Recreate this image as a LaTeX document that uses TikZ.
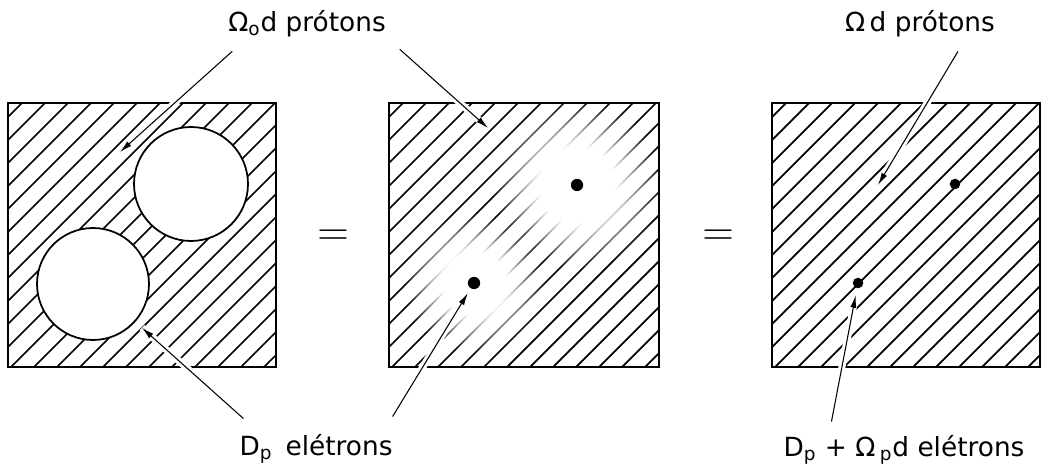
\documentclass[tikz,border=0pt]{standalone}
\usepackage{fontspec}
\setmainfont{DejaVu Sans}
\usetikzlibrary{arrows.meta,fadings}
\pgfdeclareradialshading{smearshade}{\pgfpointorigin}{color(0bp)=(pgftransparent!0); color(11bp)=(pgftransparent!0); color(25bp)=(pgftransparent!100); color(50bp)=(pgftransparent!100)}
\pgfdeclarefading{smear}{\pgfuseshading{smearshade}}

\begin{document}
\begin{tikzpicture}[x=0.02cm,y=-0.02cm,>=Latex,
  hatch/.style={line width=1pt},
  box/.style={line width=1.6pt},
  hole/.style={circle,draw,fill=white,line width=1pt,inner sep=0pt},
  dot/.style={circle,fill,inner sep=0pt,minimum size=7pt},
  lbl/.style={font=\fontsize{15}{18}\selectfont,inner sep=1pt},
  eqs/.style={font=\fontsize{26}{26}\selectfont,inner sep=0pt},
  ptr/.style={-{Latex[length=7pt,width=3.5pt]},line width=0.6pt,
    preaction={draw=white,line width=4pt,-}}]
  \useasboundingbox (0,0) rectangle (1050,475);
  \foreach \xa/\xb in {8/276,389/659,772/1040}{
    \begin{scope}
      \clip (\xa,103) rectangle (\xb,367);
      \foreach \k in {0,...,23}
        \draw[hatch] ({\xa-260+23*\k},377) -- ({\xa+24+23*\k},93);
    \end{scope}
  }
  \fill[white,path fading=smear] (577,185) circle (85);
  \fill[white,path fading=smear] (474,283) circle (70);
  \draw[box] (8,103) rectangle (276,367);
  \draw[box] (389,103) rectangle (659,367);
  \draw[box] (772,103) rectangle (1040,367);

  \node[hole,minimum size=2.28cm] (c1) at (191,184) {};
  \node[hole,minimum size=2.24cm] (c2) at (93,284) {};
  \node[dot] (d1) at (577,185) {};
  \node[dot] (d2) at (474,283) {};
  \node[dot,minimum size=6pt] (e1) at (955,184) {};
  \node[dot,minimum size=6pt] (e2) at (858,283) {};

  \node[eqs] (eq1) at (333,238) {$=$};
  \node[eqs] (eq2) at (718,238) {$=$};

  \node[lbl] (lblO) at (307,24) {Ω\textsubscript{o}d prótons};
  \node[lbl] (lblOm) at (920,24) {Ω\,d prótons};
  \node[lbl] (lblDp) at (316,449) {D\textsubscript{p}\enspace elétrons};
  \node[lbl] (lblDO) at (904,450) {D\textsubscript{p} + Ω\,\textsubscript{p}d elétrons};

  \coordinate (p1) at (120,152);
  \coordinate (p2) at (488,128);
  \coordinate (p3) at (878,185);

  \draw[ptr] ([shift={(6,12)}]lblO.south west) -- (p1);
  \draw[ptr] ([shift={(12,10)}]lblO.south east) -- (p2);
  \draw[ptr,shorten >=5pt] ([shift={(6,-14)}]lblDp.north west) -- (c2);
  \draw[ptr,shorten >=3pt] ([shift={(-2,-16)}]lblDp.north east) -- (d2);
  \draw[ptr] ([shift={(38,12)}]lblOm.south) -- (p3);
  \draw[ptr,shorten >=4pt] ([shift={(50,-12)}]lblDO.north west) -- (e2);
\end{tikzpicture}
\end{document}
